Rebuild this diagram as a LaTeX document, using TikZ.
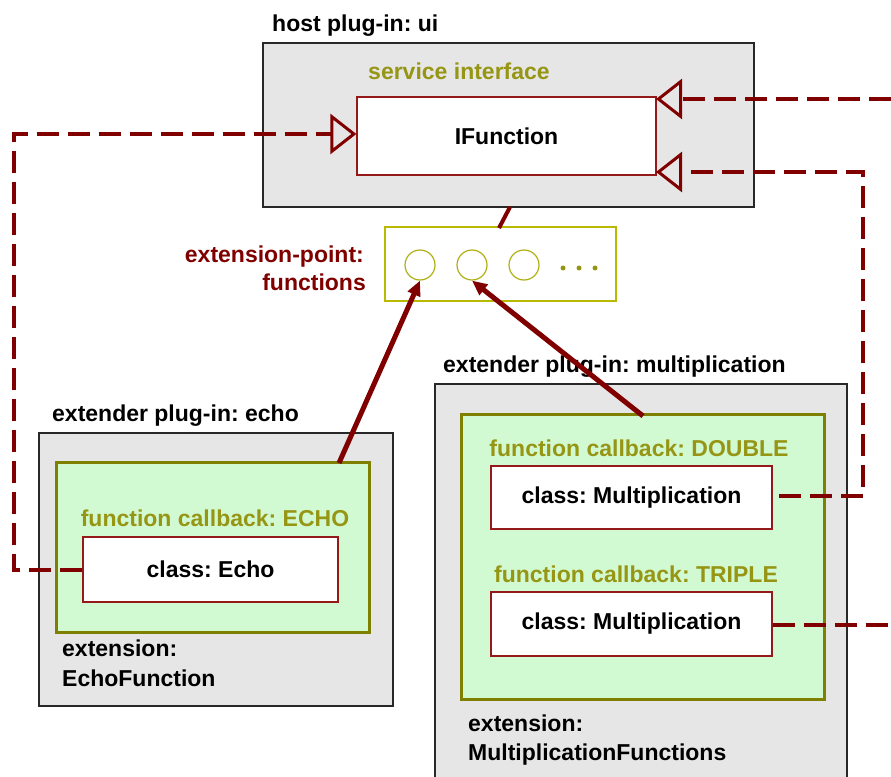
\documentclass[tikz,border=0pt]{standalone}
\usepackage{fontspec}
\setmainfont{Liberation Sans}
\frenchspacing
\usetikzlibrary{arrows.meta,calc}
\definecolor{maroon}{RGB}{128,0,0}
\definecolor{clsborder}{RGB}{150,25,25}
\definecolor{olivetext}{RGB}{150,150,20}
\definecolor{greenfill}{RGB}{210,250,210}
\definecolor{greenborder}{RGB}{128,128,0}
\definecolor{ylborder}{RGB}{185,185,0}
\definecolor{grayfill}{RGB}{230,230,230}
\definecolor{grayborder}{RGB}{40,40,40}
\tikzset{
  txt/.style={font=\fontsize{23}{27}\selectfont\bfseries\frenchspacing, inner sep=0pt},
  graybox/.style={draw=grayborder, fill=grayfill, line width=1.6pt, inner sep=0pt},
  greenbox/.style={draw=greenborder, fill=greenfill, line width=3pt, inner sep=0pt},
  clsbox/.style={draw=clsborder, fill=white, line width=1.3pt, inner sep=0pt, font=\fontsize{23}{27}\selectfont\bfseries\frenchspacing},
  epbox/.style={draw=ylborder, fill=white, line width=1.5pt, inner sep=0pt},
  slot/.style={circle, draw=ylborder!85!gray, line width=1.2pt, minimum size=30pt, inner sep=0pt},
  dotmark/.style={circle, fill=olivetext, minimum size=5pt, inner sep=0pt},
  dep/.style={draw=maroon, line width=4.5pt, dash pattern=on 22pt off 9pt},
  opentip/.style={-{Triangle[open, length=26pt, width=40pt, line width=3pt]}},
  solidarrow/.style={draw=maroon, line width=5pt, -{Triangle[length=15pt, width=13pt]}},
}
\begin{document}
\begin{tikzpicture}[x=1pt,y=-1pt]
\useasboundingbox (0,0) rectangle (891,776);
\clip (0,0) rectangle (891,776);
\fill[white] (0,0) rectangle (891,776);

% host plug-in
\node[txt, anchor=base west] (hostlabel) at (272,32) {host plug-in: ui};
\node[graybox, minimum width=491pt, minimum height=164pt] (host) at (508.5,125) {};
\node[txt, text=olivetext, anchor=base] (svclabel) at (459,80) {service interface};
\node[clsbox, minimum width=299pt, minimum height=78pt] (ifunc) at (506.5,136) {IFunction};

% extension point
\node[txt, text=maroon, anchor=base east] (eplabel1) at (364,262) {extension-point:};
\node[txt, text=maroon, anchor=base east] (eplabel2) at (366,290) {functions};
\node[epbox, minimum width=231pt, minimum height=74pt] (extpt) at (500.5,264) {};
\node[slot] (c1) at (420,265) {};
\node[slot] (c2) at (472,265) {};
\node[slot] (c3) at (524,265) {};
\node[dotmark] (d1) at (563,268) {};
\node[dotmark] (d2) at (579,268) {};
\node[dotmark] (d3) at (595,268) {};

% echo plug-in
\node[txt, anchor=base west] (echolabel) at (52,421) {extender plug-in: echo};
\node[graybox, minimum width=354pt, minimum height=273pt] (echo) at (216,569.5) {};
\node[greenbox, minimum width=313pt, minimum height=170pt] (echogreen) at (212.5,547) {};
\node[txt, text=olivetext, anchor=base] (echocb) at (215,526) {function callback: ECHO};
\node[clsbox, minimum width=255pt, minimum height=65pt] (echocls) at (210.5,569.5) {class: Echo};
\node[txt, anchor=base west] (echoext1) at (62,656) {extension:};
\node[txt, anchor=base west] (echoext2) at (62,686) {EchoFunction};

% multiplication plug-in
\node[txt, anchor=base west] (multlabel) at (443,372) {extender plug-in: multiplication};
\node[graybox, minimum width=412pt, minimum height=406pt] (mult) at (641,587) {};
\node[greenbox, minimum width=363pt, minimum height=285pt] (multgreen) at (642.5,556.5) {};
\node[txt, text=olivetext, anchor=base] (dblcb) at (639,456) {function callback: DOUBLE};
\node[clsbox, minimum width=281pt, minimum height=63pt] (cls1) at (631.5,497.5) {class: Multiplication};
\node[txt, text=olivetext, anchor=base] (trpcb) at (636,582) {function callback: TRIPLE};
\node[clsbox, minimum width=281pt, minimum height=64pt] (cls2) at (631.5,624) {class: Multiplication};
\node[txt, anchor=base west] (multext1) at (468,731) {extension:};
\node[txt, anchor=base west] (multext2) at (468,760) {MultiplicationFunctions};

% solid links
\coordinate (hb) at (510,207);
\coordinate (et) at (499,228);
\draw[maroon, line width=4pt] (hb) -- (et);
\coordinate (a1s) at (339,463);
\coordinate (a2s) at (643,416);
\draw[solidarrow] (a1s) -- (c1.south);
\draw[solidarrow] (a2s) -- (c2.south);

% dashed dependency lines
\coordinate (lc1) at (14,570);
\coordinate (lc2) at (14,134);
\draw[dep, opentip] (echocls.west |- lc1) -- (lc1) -- (lc2) -- (ifunc.west |- lc2);
\coordinate (r1) at (891,99);
\coordinate (t1) at (656,99);
\draw[dep, opentip] (r1) -- (t1);
\coordinate (s2) at (779,496);
\coordinate (k1) at (863,496);
\coordinate (k2) at (863,172);
\coordinate (t2) at (656,172);
\draw[dep, opentip] (s2) -- (k1) -- (k2) -- (t2);
\coordinate (r3) at (891,625);
\draw[dep] (cls2.east |- r3) -- (r3);
\end{tikzpicture}
\end{document}
